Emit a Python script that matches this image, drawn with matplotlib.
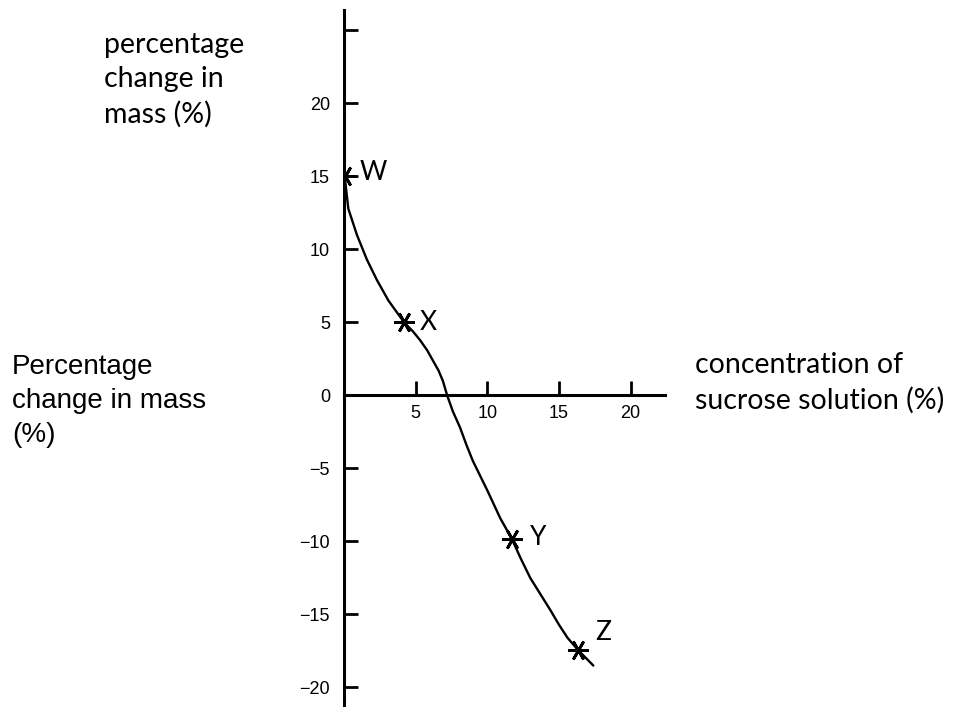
import numpy as np
import matplotlib.pyplot as plt

# read-off points on the drawn curve (concentration %, change in mass %)
curve_x = [0.05, 0.3, 0.9, 1.6, 2.3, 3.1, 4.2, 4.8, 5.3, 5.8, 6.2, 6.6, 6.9, 7.2, 7.6,
           8.1, 8.55, 9.0, 9.5, 10.0, 10.45, 10.9, 11.3, 11.7, 12.35, 13.0, 13.7, 14.4,
           15.0, 15.6, 16.3, 16.9, 17.4]
curve_y = [15.0, 12.8, 11.0, 9.3, 7.9, 6.5, 5.0, 4.4, 3.8, 3.1, 2.4, 1.7, 1.0, 0.0, -1.1,
           -2.2, -3.4, -4.5, -5.5, -6.5, -7.45, -8.4, -9.1, -9.8, -11.2, -12.5, -13.6, -14.7,
           -15.7, -16.6, -17.4, -18.0, -18.5]

# marked samples
point_names = ['W', 'X', 'Y', 'Z']
point_x = [0.05, 4.2, 11.7, 16.3]
point_y = [15.0, 5.0, -9.8, -17.4]
label_offsets = [(11, 3), (11, 0), (13, 1), (13, 12)]

y_ticks = [-20, -15, -10, -5, 0, 5, 10, 15, 20, 25]
y_labels = ['−20', '−15', '−10', '−5', '0', '5', '10', '15', '20', '']
x_ticks = [5, 10, 15, 20]

fig = plt.figure(figsize=(9.57, 7.11), dpi=100)
ax = fig.add_axes([344/957, 1-705/711, (665-344)/957, 695/711])
ax.set_xlim(0, 22.4)
ax.set_ylim(-21.2, 26.4)

ax.plot(curve_x, curve_y, color='black', lw=1.7, solid_capstyle='round', solid_joinstyle='round')
ax.plot(point_x, point_y, ls='none', marker=(6, 2, 90), ms=15, mec='black', mew=2)
for name, px, py, off in zip(point_names, point_x, point_y, label_offsets):
    ax.annotate(name, (px, py), xytext=off, textcoords='offset points',
                ha='left', va='center', fontsize=19, family='Lato')

for s in ['top', 'right']:
    ax.spines[s].set_visible(False)
ax.spines['bottom'].set_position(('data', 0))
ax.spines['left'].set_linewidth(2.2)
ax.spines['bottom'].set_linewidth(2.2)

ax.set_yticks(y_ticks)
ax.set_yticklabels(y_labels)
ax.set_xticks(x_ticks)
ax.set_xticklabels([str(t) for t in x_ticks])
ax.tick_params(axis='y', direction='in', length=10, width=2, pad=10, labelsize=13)
ax.tick_params(axis='x', direction='in', length=10, width=2, pad=7, labelsize=13)
for lab in ax.get_xticklabels() + ax.get_yticklabels():
    lab.set_family('Liberation Sans')

fig.text(104/957, 1-80/711, 'percentage\nchange in\nmass (%)', ha='left', va='center',
         fontsize=20.5, family='Lato', linespacing=1.38)
fig.text(12/957, 1-401/711, 'Percentage\nchange in mass\n(%)', ha='left', va='center',
         fontsize=20, family='Liberation Sans', linespacing=1.38)
fig.text(695/957, 1-383/711, 'concentration of\nsucrose solution (%)', ha='left', va='center',
         fontsize=20.5, family='Lato', linespacing=1.38)

fig.savefig('out.png', dpi=100)
